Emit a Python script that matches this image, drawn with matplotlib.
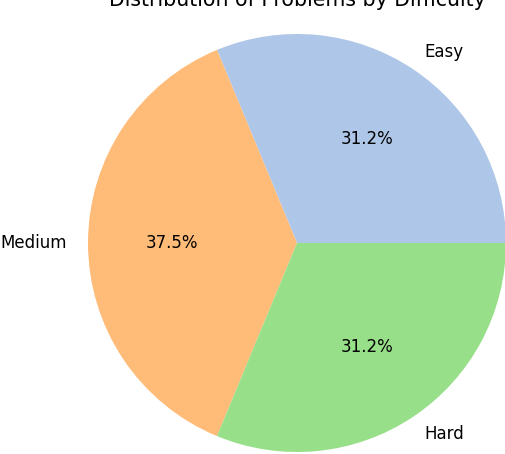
import matplotlib
matplotlib.use("Agg")
import matplotlib.pyplot as plt

categories = ["Easy", "Medium", "Hard"]
counts = [5, 6, 5]
colors = ["#aec7e8", "#ffbb78", "#98df8a"]
title = "Distribution of Problems by Difficulty"

W, H = 506, 454
fig = plt.figure(figsize=(W / 100, H / 100), dpi=100)

cx, cy, r = 297, 243, 209
side = 2.5 * r
left = (cx - side / 2) / W
bottom = (H - cy - side / 2) / H
ax = fig.add_axes([left, bottom, side / W, side / H])

ax.pie(counts, labels=categories, colors=colors, autopct="%1.1f%%",
       startangle=0, textprops={"fontsize": 12})
ax.set_aspect("equal")

fig.text(cx / W, 1 - 5.5 / H, title, ha="center", va="baseline", fontsize=14.8)

fig.savefig("out.png", dpi=100)
